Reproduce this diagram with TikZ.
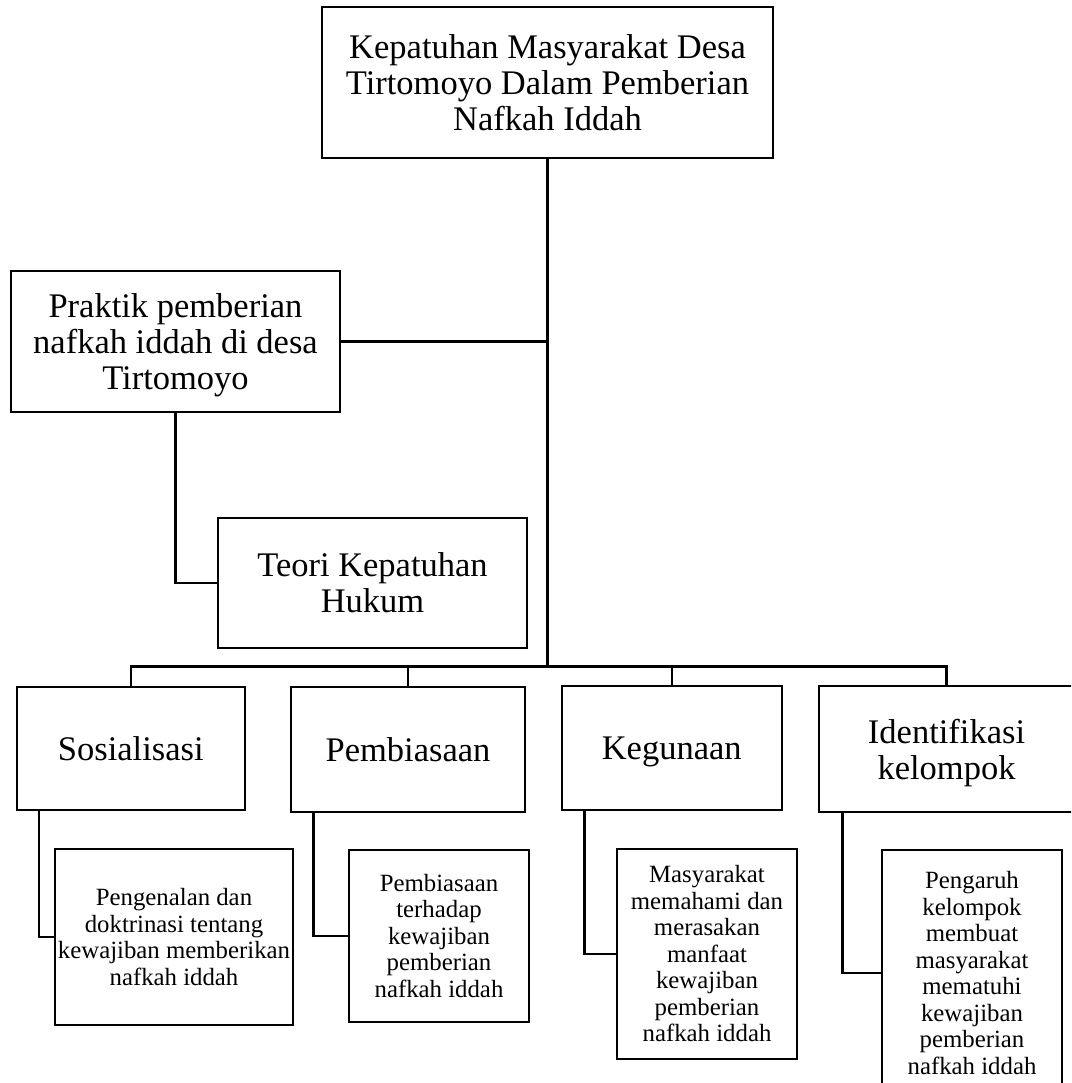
\documentclass[tikz,border=0pt]{standalone}
\usepackage{fontspec}
\setmainfont{Liberation Serif}
\newcommand{\nodepth}[1]{\raisebox{0pt}[\height][0pt]{#1}}
\begin{document}
\begin{tikzpicture}[x=1pt,y=-1pt,
  box/.style={draw, line width=2pt, inner sep=0pt, align=center},
  big/.style={font=\fontsize{34.5}{36}\selectfont},
  small/.style={font=\fontsize{24.8}{26.5}\selectfont},
  link/.style={line width=2.2pt},
  trunk/.style={line width=2.8pt}]
\useasboundingbox (0,0) rectangle (1071,1083);
\clip (0,0) rectangle (1071,1083);

\node[box,big,minimum width=451pt,minimum height=151pt] (top) at (547.5,82.5)
  {Kepatuhan Masyarakat Desa\\Tirtomoyo Dalam Pemberian\\Nafkah Iddah};
\node[box,big,minimum width=329pt,minimum height=141pt] (prak) at (175.5,341.5)
  {Praktik pemberian\\nafkah iddah di desa\\\nodepth{Tirtomoyo}};
\node[box,big,minimum width=309pt,minimum height=130pt] (teori) at (372.5,583)
  {Teori Kepatuhan\\Hukum};

\node[box,big,minimum width=228.5pt,minimum height=123pt] (sos) at (130.75,748.5) {Sosialisasi};
\node[box,big,minimum width=234pt,minimum height=125pt] (pem) at (408,749.5) {Pembiasaan};
\node[box,big,minimum width=219.5pt,minimum height=124pt] (keg) at (671.75,748) {\nodepth{Kegunaan}};
\node[box,big,minimum width=256pt,minimum height=126pt] (ide) at (946.5,749) {Identifikasi\\\nodepth{kelompok}};

\node[box,small,minimum width=238pt,minimum height=176pt] (s1) at (174,937)
  {Pengenalan dan\\doktrinasi tentang\\kewajiban memberikan\\nafkah iddah};
\node[box,small,minimum width=180pt,minimum height=172pt] (s2) at (439,936)
  {Pembiasaan\\terhadap\\kewajiban\\pemberian\\nafkah iddah};
\node[box,small,minimum width=180pt,minimum height=210pt] (s3) at (707,954)
  {Masyarakat\\memahami dan\\merasakan\\manfaat\\kewajiban\\pemberian\\nafkah iddah};
\node[box,small,minimum width=180pt,minimum height=246pt] (s4) at (972,973)
  {Pengaruh\\kelompok\\membuat\\masyarakat\\mematuhi\\kewajiban\\pemberian\\nafkah iddah};

\coordinate (bus) at (547,666.5);

\draw[trunk] (top.south) -- (top.south |- bus);
\draw[link] (prak.east) -- (prak.east -| top.south);
\draw[link] (prak.south) |- (teori.west);
\draw[link] (sos.north) |- (bus) -| (ide.north);
\draw[link] (pem.north) -- (pem.north |- bus);
\draw[link] (keg.north) -- (keg.north |- bus);

\draw[link] ([xshift=23.5pt]sos.south west) |- (s1.west);
\draw[link] ([xshift=23.5pt]pem.south west) |- (s2.west);
\draw[link] ([xshift=23.5pt]keg.south west) |- (s3.west);
\draw[link] ([xshift=25pt]ide.south west) |- (s4.west);
\end{tikzpicture}
\end{document}
